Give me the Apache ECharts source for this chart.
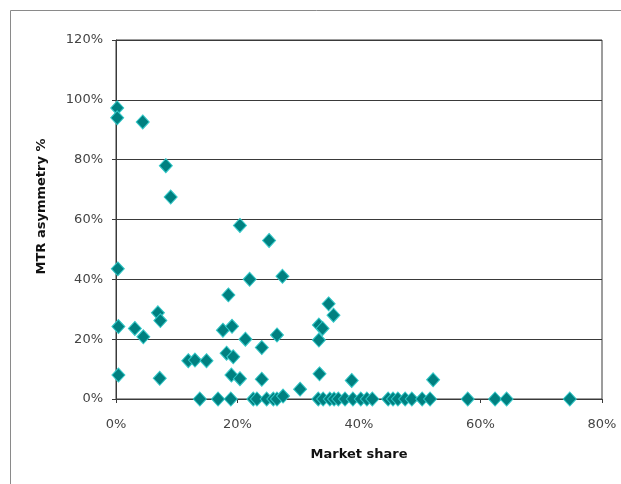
<!DOCTYPE html>
<html>
<head>
<meta charset="utf-8">
<script src="https://cdn.jsdelivr.net/npm/echarts@6/dist/echarts.min.js"></script>
<style>
html,body{margin:0;padding:0;background:#fff;}
#c{width:621px;height:484px;}
</style>
</head>
<body>
<div id="c"></div>
<script>
// Market share (%) and MTR asymmetry (%) per observation
var marketShare = [
  0.2, 0.2, 4.4, 8.2, 9.0, 20.4, 25.2, 0.3, 22.0, 27.4,
  35.0, 35.8, 0.4, 3.1, 4.5, 6.9, 7.3, 17.6, 19.1, 18.5,
  21.3, 26.5, 24.0, 18.2, 19.3, 0.4, 7.2, 11.9, 13.0, 14.9,
  19.0, 20.4, 24.0, 30.3, 33.4, 33.4, 34.0, 33.5, 38.8, 52.2,
  13.8, 16.8, 18.9, 22.6, 23.2, 24.8, 25.9, 26.5, 27.5,
  33.3, 34.1, 35.2, 35.9, 36.6, 37.7, 39.0, 40.3, 41.3, 42.2,
  44.8, 45.6, 46.4, 47.6, 48.7, 50.4, 51.7, 57.9, 62.4, 64.3, 74.7
];
var mtrAsymmetry = [
  97.3, 94.0, 92.6, 78.0, 67.5, 58.0, 53.0, 43.5, 40.0, 41.0,
  31.8, 28.0, 24.2, 23.6, 20.8, 28.8, 26.2, 23.0, 24.3, 34.8,
  20.0, 21.4, 17.2, 15.3, 14.1, 8.0, 6.9, 12.8, 13.0, 12.8,
  8.0, 6.8, 6.6, 3.3, 19.7, 24.7, 23.6, 8.4, 6.2, 6.4,
  0, 0, 0, 0, 0, 0, 0, 0, 1.0,
  0, 0, 0, 0, 0, 0, 0, 0, 0, 0,
  0, 0, 0, 0, 0, 0, 0, 0, 0, 0, 0
];
var xTicks = [0, 20, 40, 60, 80];
var yTicks = [0, 20, 40, 60, 80, 100, 120];

var points = marketShare.map(function (x, i) { return [x, mtrAsymmetry[i]]; });

var chart = echarts.init(document.getElementById('c'), null, {renderer: 'canvas'});
var font = '"DejaVu Sans", Verdana, sans-serif';
chart.setOption({
  animation: false,
  backgroundColor: '#ffffff',
  graphic: [{
    type: 'rect',
    shape: {x: 10.5, y: 10.5, width: 700, height: 600},
    style: {fill: 'none', stroke: '#8a8a8a', lineWidth: 1},
    silent: true
  }],
  grid: {
    left: 116, right: 19, top: 40, bottom: 85,
    show: true, borderColor: '#3a3a3a', borderWidth: 1, backgroundColor: '#fff'
  },
  xAxis: {
    type: 'value',
    min: xTicks[0], max: xTicks[xTicks.length - 1], interval: 20,
    name: 'Market share', nameLocation: 'middle', nameGap: 49,
    nameTextStyle: {fontFamily: font, fontSize: 13, fontWeight: 'bold', color: '#111'},
    axisLine: {show: true, onZero: false, lineStyle: {color: '#3a3a3a', width: 1}},
    axisTick: {show: true, inside: false, length: 4, lineStyle: {color: '#3a3a3a'}},
    axisLabel: {margin: 19, fontFamily: font, fontSize: 13, color: '#444', formatter: '{value}%'},
    splitLine: {show: false}
  },
  yAxis: {
    type: 'value',
    min: yTicks[0], max: yTicks[yTicks.length - 1], interval: 20,
    name: 'MTR asymmetry %', nameLocation: 'middle', nameGap: 68, nameRotate: 90,
    nameTextStyle: {fontFamily: font, fontSize: 13, fontWeight: 'bold', color: '#111', padding: [0, 0, 0, 26]},
    axisLine: {show: true, lineStyle: {color: '#3a3a3a', width: 1}},
    axisTick: {show: true, inside: false, length: 4, lineStyle: {color: '#3a3a3a'}},
    axisLabel: {margin: 13, fontFamily: font, fontSize: 13, color: '#444', formatter: '{value}%'},
    splitLine: {show: true, lineStyle: {color: '#3a3a3a', width: 1}}
  },
  series: [{
    type: 'scatter',
    data: points,
    symbol: 'diamond',
    symbolSize: [13, 14],
    itemStyle: {color: '#008080', borderColor: '#33c8c8', borderWidth: 1, opacity: 1}
  }]
});
</script>
</body>
</html>
